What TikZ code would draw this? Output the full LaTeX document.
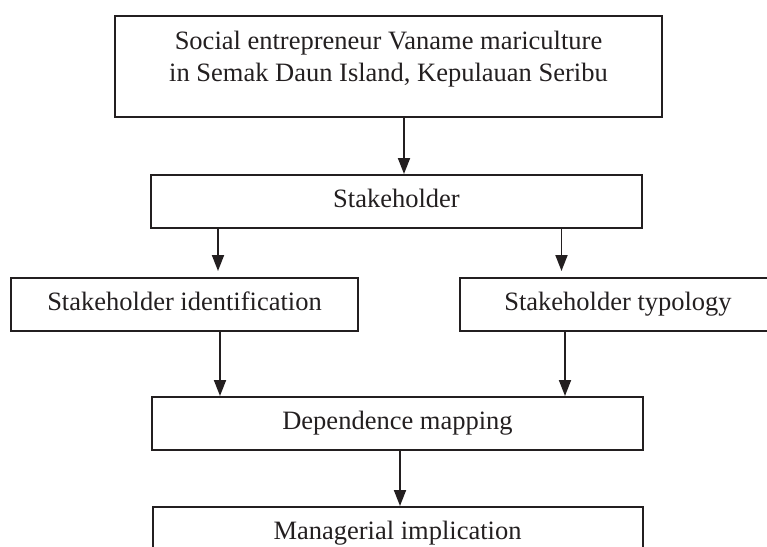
\documentclass[tikz,border=0pt]{standalone}
\usepackage{fontspec}
\setmainfont{Liberation Serif}
\usetikzlibrary{positioning,arrows.meta}
\definecolor{ink}{RGB}{35,31,32}
\tikzset{box/.style={draw=ink,line width=1pt,inner sep=0pt,minimum height=26.5pt,text=ink,
  font=\fontsize{13.25}{16}\selectfont}}
\tikzset{row/.style={box,text height=9pt,text depth=3pt}}
\tikzset{arr/.style={draw=ink,line width=0.9pt,-{Triangle[length=8pt,width=6pt]}}}

\begin{document}
\begin{tikzpicture}
\useasboundingbox (0,0) rectangle (383.5pt,-273.5pt);
\clip (0,0) rectangle (383.5pt,-273.5pt);
\node[box,minimum width=273.5pt,minimum height=50.5pt,align=center,text depth=10.5pt] (soc) at (194.25pt,-33.25pt)
  {Social entrepreneur Vaname mariculture\\in Semak Daun Island, Kepulauan Seribu};
\node[row,minimum width=245.5pt,below = 28pt of soc,xshift = 4pt] (stake) {Stakeholder};
\node[row,minimum width=173.5pt,below = 24pt of stake,xshift = -106pt] (ident) {Stakeholder identification};
\node[row,minimum width=158pt,below = 24pt of stake,xshift = 110.75pt] (typo) {Stakeholder typology};
\node[row,minimum width=245.5pt,below = 32pt of ident,xshift = 106.5pt] (dep) {Dependence mapping};
\node[row,minimum width=245pt,below = 27.5pt of dep] (man) {Managerial implication};
\draw[arr] ([xshift=7.75pt]soc.south) coordinate (s0) -- (s0 |- stake.north);
\draw[arr,shorten >=3pt] ([xshift=-89.25pt]stake.south) coordinate (s1) -- (s1 |- ident.north);
\draw[arr,shorten >=3pt] ([xshift=82.5pt]stake.south) coordinate (s2) -- (s2 |- typo.north);
\draw[arr] ([xshift=17.75pt]ident.south) coordinate (s3) -- (s3 |- dep.north);
\draw[arr] ([xshift=-26.5pt]typo.south) coordinate (s4) -- (s4 |- dep.north);
\draw[arr] ([xshift=1.25pt]dep.south) coordinate (s5) -- (s5 |- man.north);
\end{tikzpicture}
\end{document}
